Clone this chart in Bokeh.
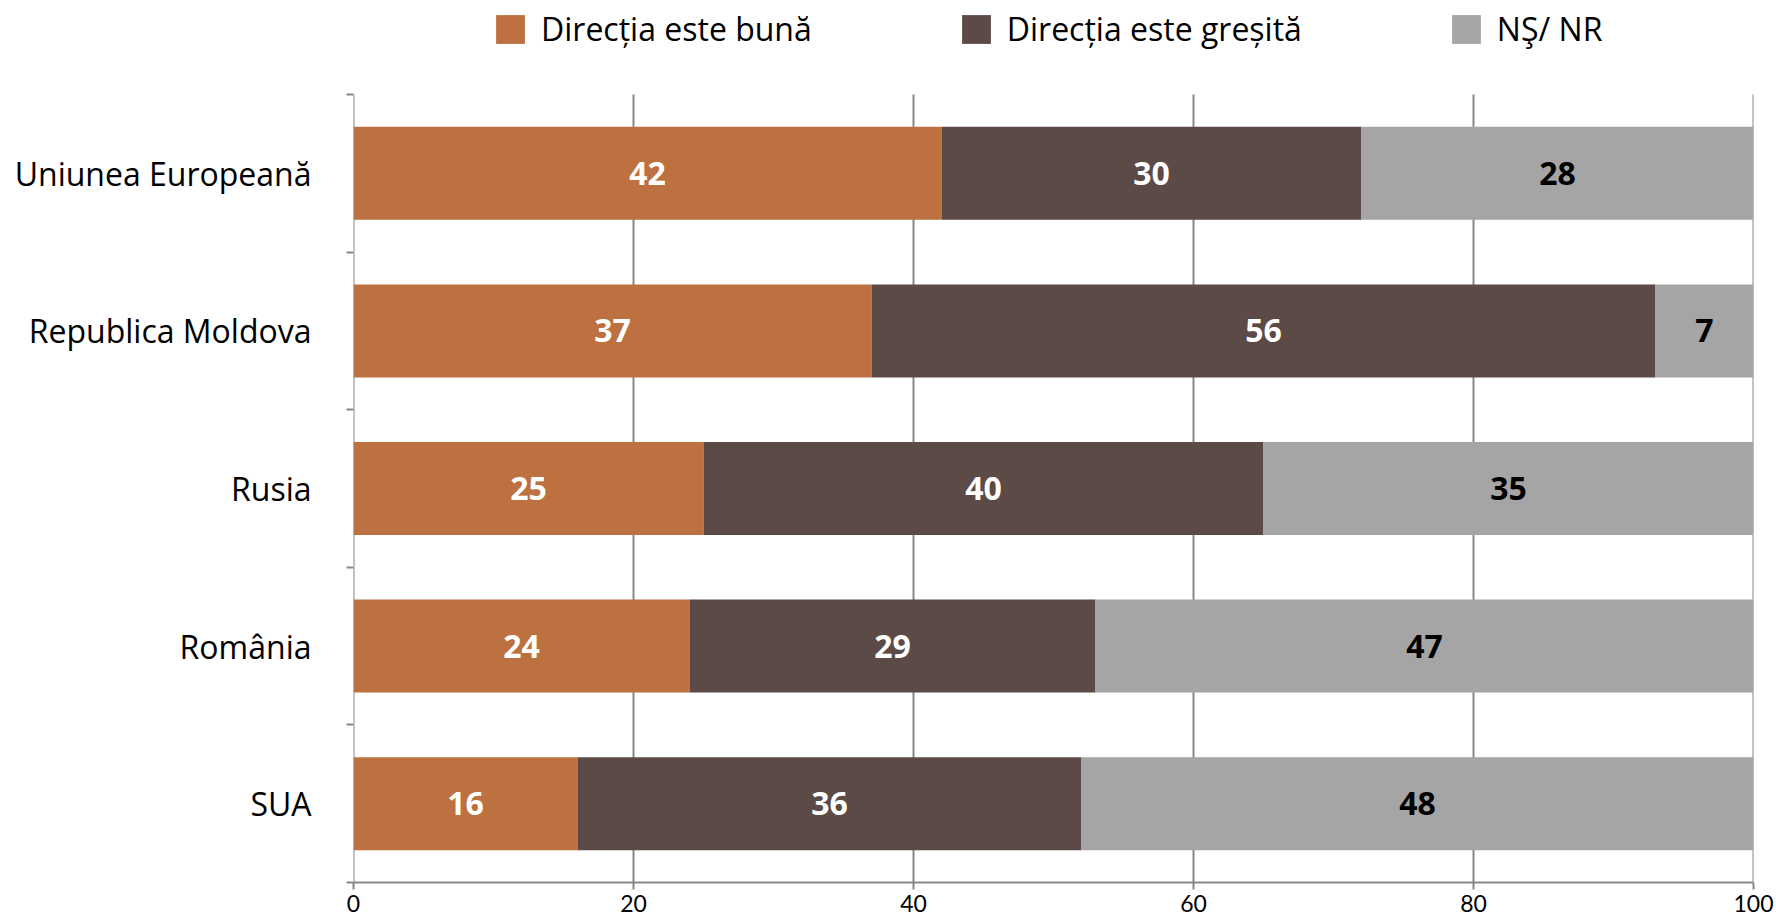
from bokeh.plotting import figure
from bokeh.models import ColumnDataSource, FixedTicker, Legend, LegendItem, Range1d
from bokeh.embed import file_html
from bokeh.resources import INLINE
from bokeh.core.properties import value

categories = ["Uniunea Europeană", "Republica Moldova", "Rusia", "România", "SUA"]
series_names = ["Direcția este bună", "Direcția este greșită", "NŞ/ NR"]
buna = [42, 37, 25, 24, 16]
gresita = [30, 56, 40, 29, 36]
nsnr = [28, 7, 35, 47, 48]
x_ticks = [0, 20, 40, 60, 80, 100]

colors = ["#BD7140", "#5C4A47", "#A5A5A5"]
label_colors = ["white", "white", "black"]

FONT = "Open Sans"
n = len(categories)
ypos = [n - i - 0.5 for i in range(n)]  # top to bottom

FRAME_H = 882
BAR_AREA = 788
y_end = n * FRAME_H / BAR_AREA

p = figure(frame_width=1400, frame_height=FRAME_H,
           x_range=Range1d(0, 100), y_range=Range1d(0, y_end),
           output_backend="svg", toolbar_location=None,
           min_border_left=353, min_border_right=23, min_border_top=0, min_border_bottom=38)
p.outline_line_color = None
p.xgrid.grid_line_color = None
p.ygrid.grid_line_color = None

grid_color = "#878787"
# vertical gridlines & y axis line, spanning only the bar area
p.segment(x0=x_ticks, x1=x_ticks, y0=[0] * len(x_ticks), y1=[n] * len(x_ticks),
          line_color=grid_color, line_width=2)

series = [buna, gresita, nsnr]
renderers = []
left = [0] * n
for s, vals in enumerate(series):
    right = [l + v for l, v in zip(left, vals)]
    src = ColumnDataSource(dict(y=ypos, left=left, right=right, v=[str(v) for v in vals],
                                mid=[(l + r) / 2 for l, r in zip(left, right)]))
    r = p.hbar(y="y", left="left", right="right", height=0.59, source=src,
               fill_color=colors[s], line_color=None)
    renderers.append(r)
    p.text(x="mid", y="y", text="v", source=src, text_align="center", text_baseline="middle",
           text_font=value(FONT), text_font_style="bold", text_font_size="32px",
           text_color=label_colors[s])
    left = right

# axes
xa = p.xaxis[0]
xa.ticker = FixedTicker(ticks=x_ticks)
xa.axis_line_color = grid_color
xa.axis_line_width = 2
xa.major_tick_line_color = grid_color
xa.major_tick_line_width = 2
xa.major_tick_out = 7
xa.major_tick_in = 0
xa.minor_tick_line_color = None
xa.major_label_standoff = 5
xa.major_label_text_font = "Lato"
xa.major_label_text_font_size = "23px"
xa.major_label_text_color = "black"

ya = p.yaxis[0]
ya.ticker = FixedTicker(ticks=ypos, minor_ticks=list(range(n + 1)))
ya.major_label_overrides = {y: c for y, c in zip(ypos, categories)}
ya.axis_line_color = None
ya.major_tick_line_color = None
ya.major_tick_out = 0
ya.major_tick_in = 0
ya.minor_tick_line_color = grid_color
ya.minor_tick_line_width = 2
ya.minor_tick_out = 7
ya.minor_tick_in = 0
ya.major_label_standoff = 35
ya.major_label_text_font = FONT
ya.major_label_text_font_size = "32px"
ya.major_label_text_color = "black"

legend = Legend(items=[LegendItem(label=series_names[i], renderers=[renderers[i]]) for i in range(3)],
                orientation="horizontal", location=(139, FRAME_H - 50),
                glyph_width=36, glyph_height=36, label_standoff=13, spacing=146,
                padding=0, margin=0, border_line_color=None, background_fill_alpha=0,
                label_text_font=FONT, label_text_font_size="32px", label_text_color="black")
p.add_layout(legend, "center")

open("out.html", "w").write(file_html(p, INLINE))
